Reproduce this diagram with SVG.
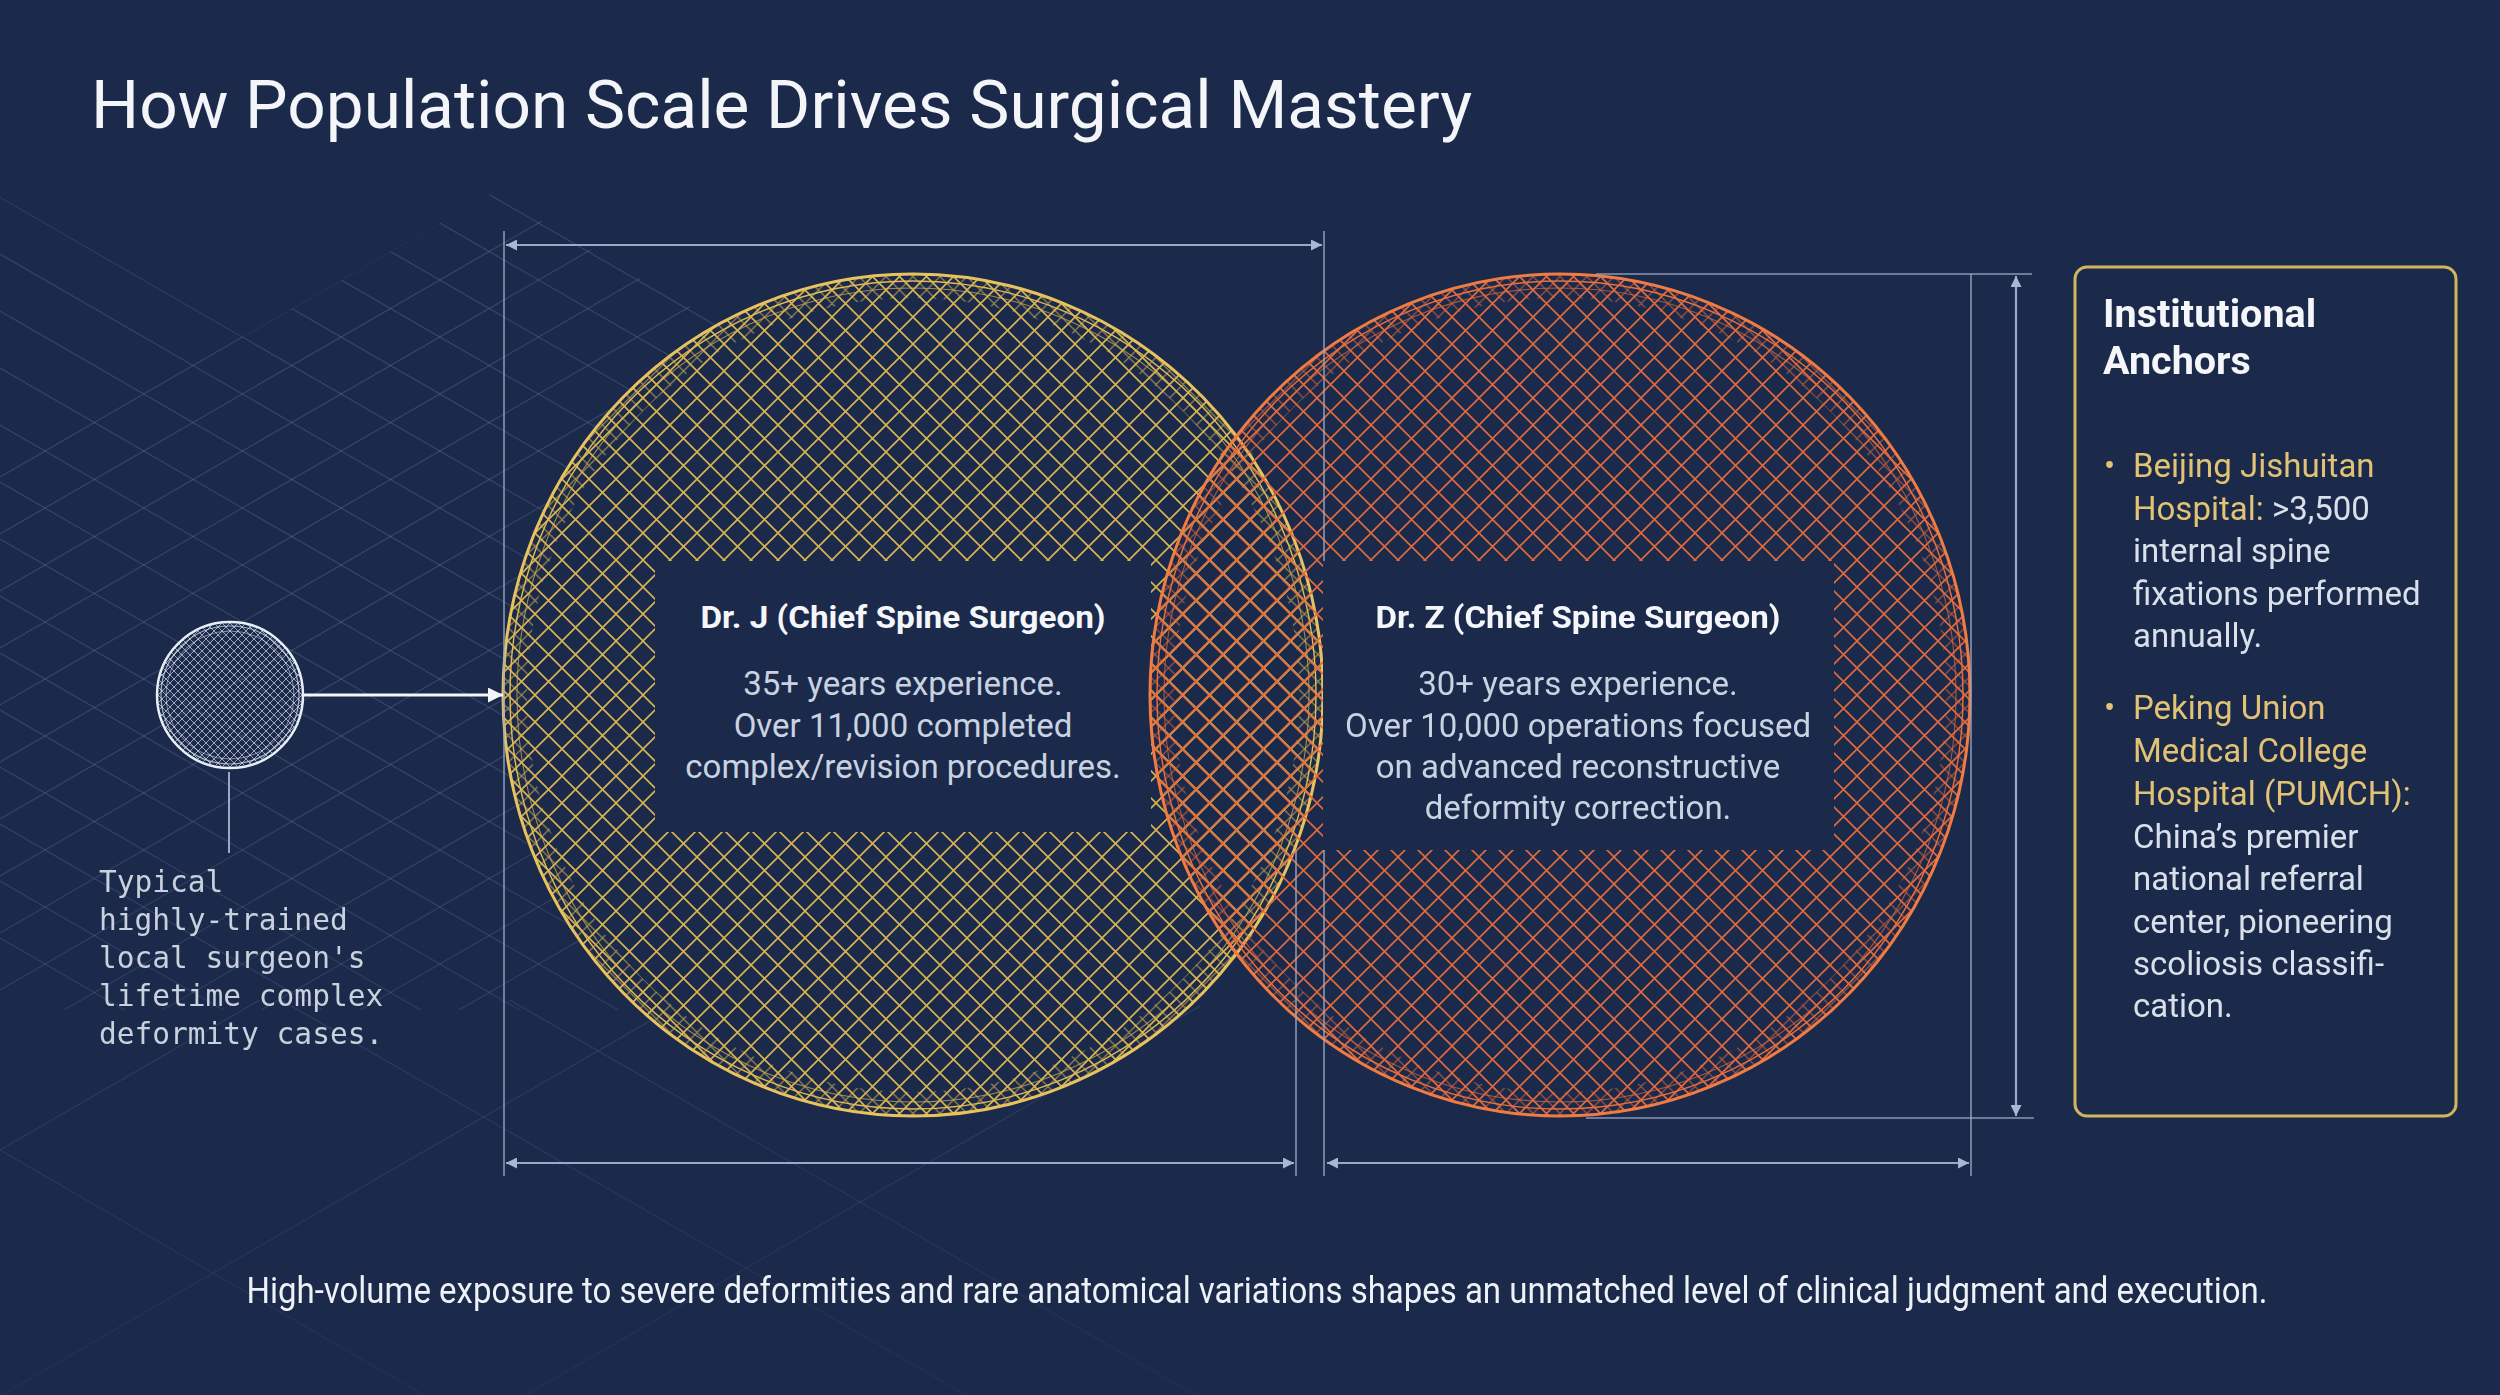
<svg xmlns="http://www.w3.org/2000/svg" width="2500" height="1395" viewBox="0 0 2500 1395">
<style>
.bg{fill:#1b2a4b}
.grid line{stroke:#7085ad;stroke-width:1.2;opacity:.3}
.dim{stroke:#9aaac6;stroke-width:2.2;fill:none}
.ext{stroke:#9aaac6;stroke-width:1.6;fill:none;opacity:.85}
.title{font-family:Roboto,"Liberation Sans",sans-serif;font-size:67.5px;fill:#f3f5f9}
.head{font-family:Roboto,"Liberation Sans",sans-serif;font-weight:700;font-size:32px;fill:#f4f6fa;text-anchor:middle}
.body{font-family:Roboto,"Liberation Sans",sans-serif;font-size:33px;fill:#c9d2e0;text-anchor:middle}
.mono{font-family:"DejaVu Sans Mono","Liberation Mono",monospace;font-size:29.5px;fill:#c9d1dd}
.ptitle{font-family:Roboto,"Liberation Sans",sans-serif;font-weight:700;font-size:39.5px;fill:#f4f6fa}
.ptext{font-family:Roboto,"Liberation Sans",sans-serif;font-size:33px;fill:#d9e0ea}
.gold{fill:#e2c274}
.cap{font-family:Roboto,"Liberation Sans",sans-serif;font-size:36px;fill:#eef1f6;text-anchor:middle}
.box{fill:#1b2a4b}
</style>
<defs>
<pattern id="meshY" width="27" height="27" patternUnits="userSpaceOnUse" x="913" y="695"><path d="M0,0L27,27M27,0L0,27" stroke="#d8b452" stroke-width="1.6" fill="none"/></pattern>
<pattern id="meshY2" width="27" height="27" patternUnits="userSpaceOnUse" x="926.5" y="695"><path d="M0,0L27,27M27,0L0,27" stroke="#d8b452" stroke-width="1.2" fill="none"/></pattern>
<pattern id="meshO" width="27" height="27" patternUnits="userSpaceOnUse" x="1560" y="695"><path d="M0,0L27,27M27,0L0,27" stroke="#e06a3e" stroke-width="1.6" fill="none"/></pattern>
<pattern id="meshO2" width="27" height="27" patternUnits="userSpaceOnUse" x="1573.5" y="695"><path d="M0,0L27,27M27,0L0,27" stroke="#e06a3e" stroke-width="1.2" fill="none"/></pattern>
<pattern id="meshW" width="8" height="8" patternUnits="userSpaceOnUse" x="230" y="695"><path d="M0,0L8,8M8,0L0,8" stroke="#dfe6f1" stroke-width="0.9" fill="none"/></pattern>
<marker id="dimA" viewBox="0 0 10 10" refX="10" refY="5" markerWidth="15" markerHeight="11" markerUnits="userSpaceOnUse" orient="auto-start-reverse"><path d="M0,0L10,5L0,10Z" fill="#a9b8d0"/></marker>
<marker id="whA" viewBox="0 0 10 10" refX="10" refY="5" markerWidth="16" markerHeight="15" markerUnits="userSpaceOnUse" orient="auto"><path d="M0,0L10,5L0,10Z" fill="#f2f5fa"/></marker>
<clipPath id="gridClip"><polygon points="0,197 243,337 493,193 720,324 720,1010 0,1010"/></clipPath>
<clipPath id="botClip"><rect x="0" y="1000" width="1200" height="395"/></clipPath>
<linearGradient id="fade" x1="0" y1="0" x2="0" y2="1"><stop offset="0" stop-color="#fff"/><stop offset="0.55" stop-color="#fff"/><stop offset="1" stop-color="#fff" stop-opacity="0.25"/></linearGradient>
<mask id="noCircles"><rect width="2500" height="1395" fill="url(#fade)"/><ellipse cx="913" cy="695" rx="412" ry="423" fill="#000"/><ellipse cx="1560" cy="695" rx="412" ry="423" fill="#000"/></mask>
</defs>
<rect class="bg" width="2500" height="1395"/>
<g id="background-grid" class="grid" mask="url(#noCircles)">
<g clip-path="url(#gridClip)">
<line x1="0" y1="197" x2="800" y2="659"/><line x1="0" y1="254" x2="800" y2="716"/><line x1="0" y1="311" x2="800" y2="773"/><line x1="0" y1="368" x2="800" y2="830"/><line x1="0" y1="425" x2="800" y2="887"/><line x1="0" y1="482" x2="800" y2="944"/><line x1="0" y1="539" x2="800" y2="1001"/><line x1="0" y1="596" x2="800" y2="1058"/><line x1="0" y1="653" x2="800" y2="1115"/><line x1="0" y1="710" x2="800" y2="1172"/><line x1="0" y1="767" x2="800" y2="1229"/><line x1="0" y1="824" x2="800" y2="1286"/><line x1="0" y1="881" x2="800" y2="1343"/><line x1="0" y1="938" x2="800" y2="1400"/>
<line x1="0" y1="140" x2="800" y2="602"/><line x1="0" y1="83" x2="800" y2="545"/><line x1="0" y1="26" x2="800" y2="488"/><line x1="0" y1="-31" x2="800" y2="431"/><line x1="0" y1="-88" x2="800" y2="374"/>
<line x1="0" y1="477" x2="800" y2="15"/><line x1="0" y1="534" x2="800" y2="72"/><line x1="0" y1="591" x2="800" y2="129"/><line x1="0" y1="648" x2="800" y2="186"/><line x1="0" y1="705" x2="800" y2="243"/><line x1="0" y1="762" x2="800" y2="300"/><line x1="0" y1="819" x2="800" y2="357"/><line x1="0" y1="876" x2="800" y2="414"/><line x1="0" y1="933" x2="800" y2="471"/><line x1="0" y1="990" x2="800" y2="528"/><line x1="0" y1="1047" x2="800" y2="585"/><line x1="0" y1="1104" x2="800" y2="642"/><line x1="0" y1="1161" x2="800" y2="699"/><line x1="0" y1="1218" x2="800" y2="756"/><line x1="0" y1="1275" x2="800" y2="813"/>
</g>
<g clip-path="url(#botClip)">
<line x1="0" y1="706" x2="1200" y2="1398"/><line x1="0" y1="838" x2="1200" y2="1530"/><line x1="0" y1="1150" x2="500" y2="1439"/>
<line x1="0" y1="1150" x2="400" y2="919"/><line x1="0" y1="1396" x2="1000" y2="819"/><line x1="200" y1="1583" x2="1200" y2="1006"/>
</g>
</g>

<g id="title"><text class="title" x="91" y="128">How Population Scale Drives Surgical Mastery</text></g>

<g id="local-surgeon">
<circle cx="230" cy="695" r="72" fill="url(#meshW)" opacity=".75"/>
<circle cx="230" cy="695" r="64" fill="none" stroke="#dfe6f1" stroke-width="1" opacity=".55"/>
<circle cx="230" cy="695" r="69" fill="none" stroke="#dfe6f1" stroke-width="1.2" opacity=".7"/>
<circle cx="230" cy="695" r="73" fill="none" stroke="#e8eef7" stroke-width="2.5"/>
<text class="mono"><tspan x="99" y="892">Typical</tspan><tspan x="99" y="930">highly-trained</tspan><tspan x="99" y="968">local surgeon's</tspan><tspan x="99" y="1006">lifetime complex</tspan><tspan x="99" y="1044">deformity cases.</tspan></text>
</g>

<g id="dr-j">
<ellipse cx="913" cy="695" rx="410" ry="421" fill="url(#meshY)"/>
<path d="M503,695a410,421 0 1,0 820,0a410,421 0 1,0 -820,0ZM527,695a386,397 0 1,1 772,0a386,397 0 1,1 -772,0Z" fill="url(#meshY2)" fill-rule="evenodd" opacity=".75"/>
<ellipse cx="913" cy="695" rx="396" ry="407" fill="none" stroke="#d8b452" stroke-width="1.1" opacity=".7"/>
<ellipse cx="913" cy="695" rx="403" ry="414" fill="none" stroke="#e0bb58" stroke-width="1.4"/>
<ellipse cx="913" cy="695" rx="410" ry="421" fill="none" stroke="#e8c25e" stroke-width="3"/>
<rect class="box" x="655" y="561" width="496" height="271"/>
<text class="head" x="903" y="628" textLength="405" lengthAdjust="spacingAndGlyphs">Dr. J (Chief Spine Surgeon)</text>
<text class="body"><tspan x="903" y="695">35+ years experience.</tspan><tspan x="903" y="737">Over 11,000 completed</tspan><tspan x="903" y="778">complex/revision procedures.</tspan></text>
</g>

<g id="dr-z">
<ellipse cx="1560" cy="695" rx="410" ry="421" fill="url(#meshO)"/>
<path d="M1150,695a410,421 0 1,0 820,0a410,421 0 1,0 -820,0ZM1174,695a386,397 0 1,1 772,0a386,397 0 1,1 -772,0Z" fill="url(#meshO2)" fill-rule="evenodd" opacity=".75"/>
<ellipse cx="1560" cy="695" rx="396" ry="407" fill="none" stroke="#e06a3e" stroke-width="1.1" opacity=".7"/>
<ellipse cx="1560" cy="695" rx="403" ry="414" fill="none" stroke="#e8703f" stroke-width="1.4"/>
<ellipse cx="1560" cy="695" rx="410" ry="421" fill="none" stroke="#f07b43" stroke-width="3"/>
<rect class="box" x="1323" y="561" width="511" height="289"/>
<text class="head" x="1578" y="628" textLength="405" lengthAdjust="spacingAndGlyphs">Dr. Z (Chief Spine Surgeon)</text>
<text class="body"><tspan x="1578" y="695">30+ years experience.</tspan><tspan x="1578" y="737">Over 10,000 operations focused</tspan><tspan x="1578" y="778">on advanced reconstructive</tspan><tspan x="1578" y="819">deformity correction.</tspan></text>
</g>

<g id="institutional-anchors">
<rect x="2075" y="267" width="381" height="849" rx="12" fill="#1b2a4b" stroke="#d2b35f" stroke-width="3"/>
<text class="ptitle"><tspan x="2103" y="327">Institutional</tspan><tspan x="2103" y="374">Anchors</tspan></text>
<text class="ptext gold" x="2104" y="477">•</text>
<text class="ptext"><tspan x="2133" y="477" class="gold">Beijing Jishuitan</tspan><tspan x="2133" y="520"><tspan class="gold">Hospital:</tspan> &gt;3,500</tspan><tspan x="2133" y="562">internal spine</tspan><tspan x="2133" y="605">fixations performed</tspan><tspan x="2133" y="647">annually.</tspan></text>
<text class="ptext gold" x="2104" y="719">•</text>
<text class="ptext"><tspan x="2133" y="719" class="gold">Peking Union</tspan><tspan x="2133" y="762" class="gold">Medical College</tspan><tspan x="2133" y="805" class="gold">Hospital (PUMCH):</tspan><tspan x="2133" y="848">China’s premier</tspan><tspan x="2133" y="890">national referral</tspan><tspan x="2133" y="933">center, pioneering</tspan><tspan x="2133" y="975">scoliosis classifi-</tspan><tspan x="2133" y="1017">cation.</tspan></text>
</g>

<g id="caption"><text class="cap" x="1257" y="1303" textLength="2021" lengthAdjust="spacingAndGlyphs">High-volume exposure to severe deformities and rare anatomical variations shapes an unmatched level of clinical judgment and execution.</text></g>

<g id="connectors">
<line x1="304" y1="695" x2="503" y2="695" stroke="#f2f5fa" stroke-width="3" marker-end="url(#whA)"/>
<line x1="229" y1="772" x2="229" y2="853" stroke="#9aaac6" stroke-width="2"/>
<line class="ext" x1="504" y1="231" x2="504" y2="1176"/>
<line class="ext" x1="1324" y1="231" x2="1324" y2="561"/>
<line class="ext" x1="1324" y1="850" x2="1324" y2="1176"/>
<line class="ext" x1="1296" y1="850" x2="1296" y2="1176"/>
<line class="ext" x1="1971" y1="274" x2="1971" y2="1176"/>
<line class="ext" x1="1596" y1="274" x2="2032" y2="274"/>
<line class="ext" x1="1586" y1="1118" x2="2034" y2="1118"/>
<line class="dim" x1="506" y1="245" x2="1322" y2="245" marker-start="url(#dimA)" marker-end="url(#dimA)"/>
<line class="dim" x1="506" y1="1163" x2="1294" y2="1163" marker-start="url(#dimA)" marker-end="url(#dimA)"/>
<line class="dim" x1="1327" y1="1163" x2="1969" y2="1163" marker-start="url(#dimA)" marker-end="url(#dimA)"/>
<line class="dim" x1="2016" y1="276" x2="2016" y2="1116" marker-start="url(#dimA)" marker-end="url(#dimA)"/>
</g>
</svg>
